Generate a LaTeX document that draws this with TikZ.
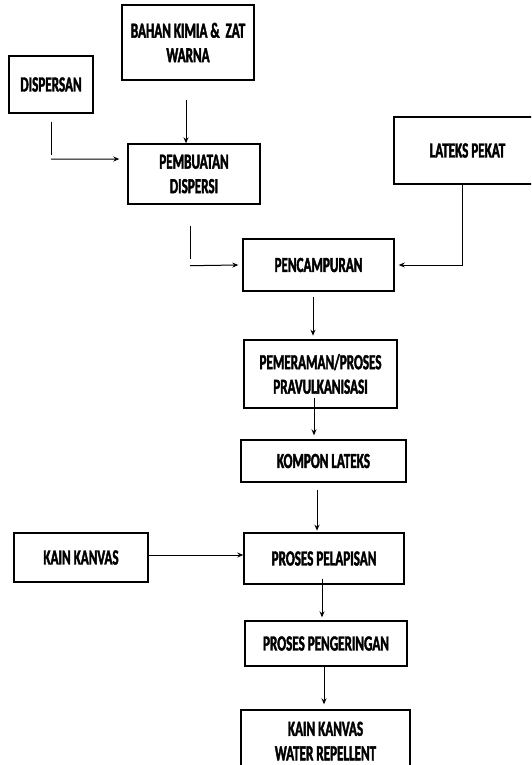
\documentclass[tikz,border=0pt]{standalone}
\usepackage{fontspec}
\usetikzlibrary{arrows.meta,calc}
\newfontfamily\labfont{Carlito Bold}[FakeStretch=0.61, FakeBold=1.8]
\tikzset{
  boxnode/.style={draw, line width=1.4pt, inner sep=0pt, align=center,
    font=\labfont\fontsize{21.5}{24.5}\selectfont},
  conn/.style={line width=1pt},
  arr/.style={line width=1pt, -{Stealth[length=6pt,width=5pt]}}
}
\begin{document}
\begin{tikzpicture}[x=1pt,y=-1pt]
\clip (0,0) rectangle (531,765);
\node[boxnode, minimum width=132, minimum height=75] (bahan) at (188,42.5) {BAHAN KIMIA \&\ \ ZAT\\WARNA};
\node[boxnode, minimum width=84, minimum height=57] (dispersan) at (51,84.5) {DISPERSAN};
\node[boxnode, minimum width=132, minimum height=60] (pembuatan) at (194,174) {PEMBUATAN\\DISPERSI};
\node[boxnode, minimum width=147, minimum height=67] (lateks) at (467.5,150.5) {LATEKS PEKAT};
\node[boxnode, minimum width=151, minimum height=52] (pencampuran) at (318.5,265) {PENCAMPURAN};
\node[boxnode, minimum width=153, minimum height=68] (pemeraman) at (320.5,374) {PEMERAMAN/PROSES\\PRAVULKANISASI};
\node[boxnode, minimum width=165, minimum height=42] (kompon) at (323.5,461) {KOMPON LATEKS};
\node[boxnode, minimum width=134, minimum height=49] (kain) at (81,557.5) {KAIN KANVAS};
\node[boxnode, minimum width=160, minimum height=51] (pelapisan) at (324,558.5) {PROSES PELAPISAN};
\node[boxnode, minimum width=162, minimum height=45] (pengeringan) at (326,643.5) {PROSES PENGERINGAN};
\node[boxnode, minimum width=169, minimum height=80, text depth=18pt] (water) at (325.5,750) {KAIN KANVAS\\WATER REPELLENT};

% bahan -> pembuatan
\draw[arr] ($(bahan.south)+(-2,19)$) -- ($(pembuatan.north)+(-8,0)$);
% dispersan -> pembuatan
\draw[conn] ($(dispersan.south)+(0,8)$) -- ($(dispersan.south)+(0,41)$);
\draw[arr] ($(dispersan.south)+(0,45.5)$) -- ($(pembuatan.west)+(-8,-15)$);
% pembuatan -> pencampuran
\draw[conn] ($(pembuatan.south)+(-4,21)$) -- ($(pembuatan.south)+(-4,54)$);
\draw[arr] ($(pembuatan.south)+(-4,61)$) -- ($(pencampuran.west)+(-4,0)$);
% lateks -> pencampuran
\draw[arr] ($(lateks.south)+(-5.5,0)$) |- ($(pencampuran.east)+(4,0)$);
% vertical chain
\draw[arr] ($(pencampuran.south)+(-5.5,5)$) -- ($(pencampuran.south)+(-5.5,44)$);
\draw[arr] ($(pemeraman.south)+(-6.5,-11)$) -- ($(kompon.north)+(-9.5,-4)$);
\draw[arr] ($(kompon.south)+(-6.5,7)$) -- ($(kompon.south)+(-6.5,48)$);
\draw[arr] (kain.east |- 0,555) -- (pelapisan.west |- 0,555);
\draw[arr] ($(pelapisan.south)+(-2,-6)$) -- ($(pengeringan.north)+(-4,-3)$);
\draw[arr] ($(pengeringan.south)+(-2,0)$) -- ($(water.north)+(-1.5,-5)$);
\end{tikzpicture}
\end{document}
